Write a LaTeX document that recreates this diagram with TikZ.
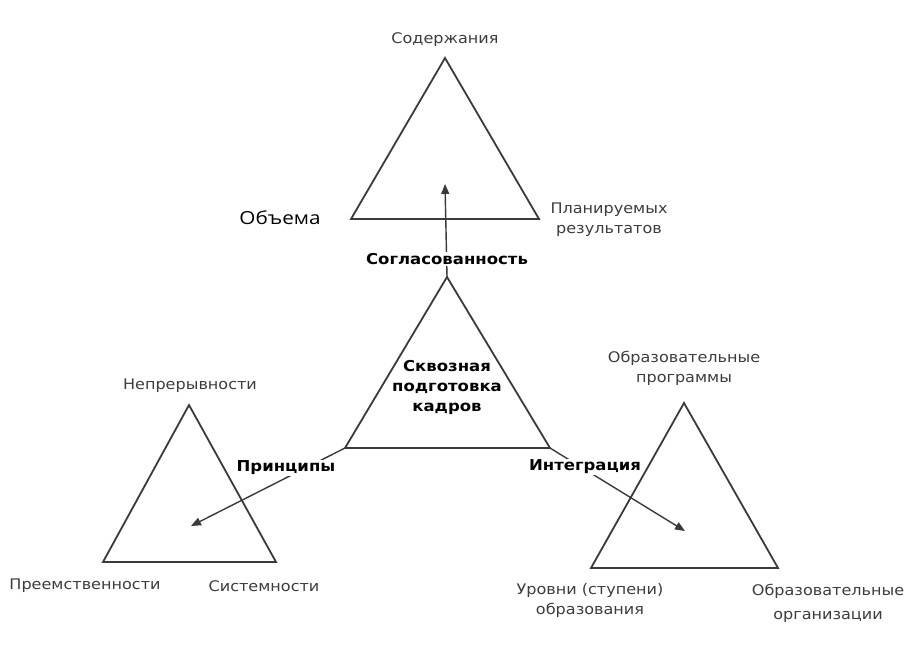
\documentclass[tikz,border=0pt]{standalone}
\usepackage{fontspec}
\usetikzlibrary{arrows.meta}
\newfontfamily\labfont[FakeStretch=1.1]{DejaVu Sans}
\newfontfamily\obfont[FakeStretch=1.15]{Open Sans}
\definecolor{lineg}{HTML}{3A3A3A}
\definecolor{textg}{HTML}{3C3C3C}
\tikzset{
  tri/.style={draw=lineg, line width=1.8pt, line join=miter},
  arr/.style={draw=lineg, line width=1.4pt, -{Triangle[length=10pt,width=8pt]}},
  lab/.style={font=\labfont\fontsize{14.6}{20}\selectfont, text=textg, align=center, inner sep=0pt},
  blab/.style={font=\labfont\bfseries\fontsize{15}{20}\selectfont, text=black, align=center, fill=white, inner sep=1pt},
}
\begin{document}
\begin{tikzpicture}[x=1pt,y=-1pt]
\useasboundingbox (0,0) rectangle (923,662);
% vertices
\coordinate (tA) at (445,58);  \coordinate (tL) at (351,219); \coordinate (tR) at (539,219);
\coordinate (cA) at (447,277); \coordinate (cL) at (345,448); \coordinate (cR) at (550,448);
\coordinate (lA) at (189,405); \coordinate (lL) at (103,562); \coordinate (lR) at (276,562);
\coordinate (rA) at (684,403); \coordinate (rL) at (591,568); \coordinate (rR) at (778,568);
\coordinate (tC) at (445,184);
\coordinate (lC) at (191,526);
\coordinate (rC) at (685,531);
% connectors
\draw[arr] (cA) -- (tC);
\draw[arr] (cL) -- (lC);
\draw[arr] (cR) -- (rC);
% labels on connectors
\node[blab] (sogl) at (447,259) {Согласованность};
\node[blab] (princ) at (286,468) {Принципы};
\node[blab] (integr) at (585,467) {Интеграция};
% triangles
\draw[tri] (tA) -- (tR) -- (tL) -- cycle;
\draw[tri] (cA) -- (cR) -- (cL) -- cycle;
\draw[tri] (lA) -- (lR) -- (lL) -- cycle;
\draw[tri] (rA) -- (rR) -- (rL) -- cycle;
% central text
\node[lab, font=\labfont\bfseries\fontsize{15}{20}\selectfont, text=black] (core) at (447,387) {Сквозная\\подготовка\\кадров};
% vertex labels
\node[lab] (soder) at (445,40) {Содержания};
\node[lab, font=\obfont\fontsize{18}{20}\selectfont, text=black] (obem) at (280,218) {Объема};
\node[lab] (plan) at (609,220) {Планируемых\\результатов};
\node[lab] (nepr) at (190,386) {Непрерывности};
\node[lab] (preem) at (85,586) {Преемственности};
\node[lab] (sist) at (264,586) {Системности};
\node[lab] (obrp) at (684,368) {Образовательные\\программы};
\node[lab] (urov) at (590,600) {Уровни (ступени)\\образования};
\node[lab, align=center] (obro) at (828,603) {Образовательные\\[4pt]организации};
\end{tikzpicture}
\end{document}
